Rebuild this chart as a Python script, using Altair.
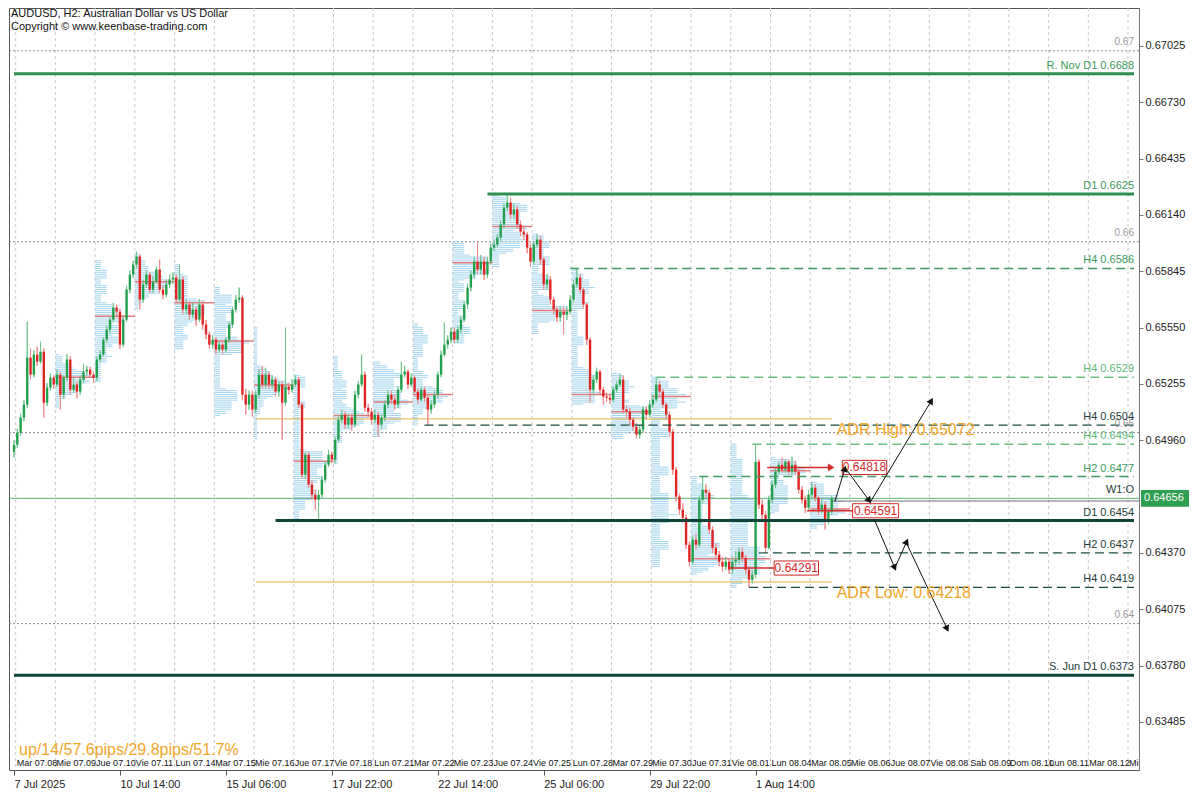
import math
import altair as alt
import pandas as pd

# ---------------- data (AUDUSD H2, bar 0 = 7 Jul 22:00) ----------------
first_open = 0.64900
closes = [
    0.64937,
    0.65000, 0.65079, 0.65147, 0.65393, 0.65304, 0.65409, 0.65372, 0.65424, 0.65157, 0.65236, 0.65288, 0.65252,
    0.65304, 0.65199, 0.65288, 0.65383, 0.65225, 0.65252, 0.65215, 0.65278, 0.65320, 0.65330, 0.65304, 0.65288,
    0.65383, 0.65409, 0.65487, 0.65540, 0.65592, 0.65655, 0.65634, 0.65461, 0.65592, 0.65749, 0.65828, 0.65880,
    0.65922, 0.65697, 0.65776, 0.65828, 0.65749, 0.65791, 0.65854, 0.65749, 0.65723, 0.65776, 0.65802, 0.65812,
    0.65697, 0.65802, 0.65645, 0.65671, 0.65618, 0.65645, 0.65592, 0.65671, 0.65566, 0.65514, 0.65461, 0.65487,
    0.65435, 0.65461, 0.65435, 0.65487, 0.65566, 0.65645, 0.65697, 0.65707, 0.65199, 0.65147, 0.65199, 0.65121,
    0.65199, 0.65304, 0.65252, 0.65304, 0.65252, 0.65278, 0.65215, 0.65252, 0.65157, 0.65241, 0.65225, 0.65252,
    0.65278, 0.65147, 0.64780, 0.64885, 0.64728, 0.64675, 0.64649, 0.64675, 0.64754, 0.64832, 0.64885, 0.64859,
    0.64963, 0.65068, 0.65094, 0.65042, 0.65079, 0.65042, 0.65199, 0.65252, 0.65304, 0.65131, 0.65110, 0.65068,
    0.65094, 0.65042, 0.65079, 0.65147, 0.65199, 0.65173, 0.65147, 0.65225, 0.65304, 0.65320, 0.65252, 0.65288,
    0.65215, 0.65173, 0.65225, 0.65183, 0.65121, 0.65147, 0.65199, 0.65304, 0.65409, 0.65461, 0.65487, 0.65529,
    0.65487, 0.65540, 0.65592, 0.65671, 0.65760, 0.65828, 0.65896, 0.65854, 0.65896, 0.65828, 0.65896, 0.65969,
    0.65985, 0.66022, 0.66090, 0.66179, 0.66205, 0.66142, 0.66169, 0.66090, 0.66053, 0.66038, 0.65969, 0.65896,
    0.65985, 0.66011, 0.65907, 0.65776, 0.65802, 0.65697, 0.65645, 0.65603, 0.65634, 0.65618, 0.65634, 0.65697,
    0.65776, 0.65812, 0.65749, 0.65671, 0.65487, 0.65225, 0.65278, 0.65320, 0.65225, 0.65189, 0.65183, 0.65173,
    0.65225, 0.65252, 0.65278, 0.65121, 0.65110, 0.65068, 0.65031, 0.64990, 0.65016, 0.65121, 0.65094, 0.65147,
    0.65173, 0.65252, 0.65215, 0.65147, 0.65094, 0.65005, 0.64806, 0.64665, 0.64597, 0.64555, 0.64413, 0.64324,
    0.64439, 0.64413, 0.64649, 0.64701, 0.64686, 0.64492, 0.64397, 0.64361, 0.64324, 0.64298, 0.64324, 0.64282,
    0.64324, 0.64335, 0.64376, 0.64345, 0.64282, 0.64230, 0.64256, 0.64848, 0.64623, 0.64570, 0.64397, 0.64649,
    0.64728, 0.64796, 0.64832, 0.64806, 0.64848, 0.64796, 0.64832, 0.64796, 0.64701, 0.64649, 0.64607, 0.64675,
    0.64712, 0.64659, 0.64597, 0.64623, 0.64534, 0.64586, 0.64656,
]
highs = [
    0.64960,
    0.65020, 0.65100, 0.65170, 0.65582, 0.65440, 0.65430, 0.65450, 0.65477, 0.65440, 0.65260, 0.65310, 0.65300,
    0.65330, 0.65320, 0.65300, 0.65410, 0.65400, 0.65290, 0.65270, 0.65300, 0.65360, 0.65350, 0.65345, 0.65320,
    0.65400, 0.65430, 0.65500, 0.65560, 0.65610, 0.65680, 0.65670, 0.65650, 0.65610, 0.65770, 0.65850, 0.65900,
    0.65948, 0.65935, 0.65800, 0.65850, 0.65840, 0.65820, 0.65870, 0.65906, 0.65770, 0.65800, 0.65830, 0.65840,
    0.65830, 0.65880, 0.65820, 0.65700, 0.65690, 0.65680, 0.65660, 0.65700, 0.65690, 0.65590, 0.65530, 0.65510,
    0.65500, 0.65480, 0.65480, 0.65500, 0.65580, 0.65660, 0.65720, 0.65760, 0.65720, 0.65230, 0.65220, 0.65220,
    0.65220, 0.65330, 0.65350, 0.65340, 0.65320, 0.65300, 0.65290, 0.65270, 0.65270, 0.65550, 0.65260, 0.65280,
    0.65300, 0.65290, 0.65160, 0.64900, 0.64900, 0.64750, 0.64700, 0.64700, 0.64770, 0.64850, 0.64910, 0.64900,
    0.64980, 0.65090, 0.65120, 0.65110, 0.65100, 0.65100, 0.65220, 0.65270, 0.65409, 0.65320, 0.65150, 0.65130,
    0.65120, 0.65110, 0.65100, 0.65170, 0.65220, 0.65220, 0.65200, 0.65240, 0.65372, 0.65350, 0.65330, 0.65310,
    0.65300, 0.65230, 0.65240, 0.65240, 0.65200, 0.65170, 0.65220, 0.65320, 0.65430, 0.65576, 0.65510, 0.65550,
    0.65550, 0.65560, 0.65610, 0.65690, 0.65780, 0.65850, 0.65920, 0.66001, 0.65930, 0.65920, 0.65920, 0.65990,
    0.66010, 0.66040, 0.66110, 0.66200, 0.66250, 0.66230, 0.66200, 0.66190, 0.66110, 0.66080, 0.66050, 0.65990,
    0.66000, 0.66040, 0.66030, 0.65920, 0.65830, 0.65820, 0.65710, 0.65660, 0.65660, 0.65660, 0.65660, 0.65720,
    0.65800, 0.65860, 0.65830, 0.65760, 0.65680, 0.65500, 0.65300, 0.65340, 0.65330, 0.65240, 0.65210, 0.65200,
    0.65240, 0.65270, 0.65310, 0.65300, 0.65140, 0.65130, 0.65080, 0.65050, 0.65040, 0.65140, 0.65140, 0.65170,
    0.65200, 0.65290, 0.65270, 0.65230, 0.65160, 0.65110, 0.65020, 0.64820, 0.64680, 0.64630, 0.64570, 0.64430,
    0.64460, 0.64470, 0.64670, 0.64770, 0.64730, 0.64700, 0.64510, 0.64420, 0.64380, 0.64350, 0.64350, 0.64340,
    0.64350, 0.64380, 0.64400, 0.64400, 0.64360, 0.64300, 0.64280, 0.64940, 0.64860, 0.64650, 0.64590, 0.64670,
    0.64750, 0.64820, 0.64850, 0.64869, 0.64860, 0.64860, 0.64874, 0.64850, 0.64810, 0.64720, 0.64670, 0.64700,
    0.64740, 0.64730, 0.64670, 0.64650, 0.64640, 0.64600, 0.64670,
]
lows = [
    0.64869,
    0.64920, 0.64985, 0.65060, 0.65130, 0.65280, 0.65290, 0.65350, 0.65360, 0.65079, 0.65140, 0.65220, 0.65230,
    0.65240, 0.65121, 0.65180, 0.65270, 0.65200, 0.65210, 0.65180, 0.65200, 0.65260, 0.65300, 0.65290, 0.65260,
    0.65270, 0.65370, 0.65400, 0.65470, 0.65520, 0.65580, 0.65610, 0.65440, 0.65450, 0.65580, 0.65730, 0.65810,
    0.65860, 0.65645, 0.65680, 0.65760, 0.65730, 0.65730, 0.65780, 0.65730, 0.65700, 0.65710, 0.65760, 0.65780,
    0.65680, 0.65680, 0.65620, 0.65620, 0.65590, 0.65600, 0.65560, 0.65580, 0.65540, 0.65490, 0.65440, 0.65440,
    0.65410, 0.65420, 0.65410, 0.65420, 0.65470, 0.65550, 0.65630, 0.65680, 0.65170, 0.65094, 0.65120, 0.65084,
    0.65100, 0.65180, 0.65230, 0.65230, 0.65230, 0.65230, 0.65190, 0.65190, 0.64963, 0.65140, 0.65200, 0.65210,
    0.65240, 0.65130, 0.64760, 0.64760, 0.64710, 0.64650, 0.64597, 0.64540, 0.64660, 0.64740, 0.64820, 0.64840,
    0.64840, 0.64950, 0.65050, 0.65020, 0.65020, 0.65010, 0.65030, 0.65180, 0.65240, 0.65110, 0.65080, 0.65040,
    0.65050, 0.64979, 0.65020, 0.65060, 0.65130, 0.65150, 0.65120, 0.65130, 0.65210, 0.65290, 0.65230, 0.65240,
    0.65190, 0.65150, 0.65160, 0.65160, 0.65040, 0.65100, 0.65130, 0.65180, 0.65290, 0.65400, 0.65440, 0.65470,
    0.65470, 0.65470, 0.65520, 0.65580, 0.65650, 0.65740, 0.65810, 0.65830, 0.65830, 0.65800, 0.65810, 0.65880,
    0.65950, 0.65970, 0.66000, 0.66070, 0.66160, 0.66120, 0.66120, 0.66070, 0.66030, 0.66010, 0.65940, 0.65870,
    0.65880, 0.65970, 0.65880, 0.65750, 0.65750, 0.65670, 0.65620, 0.65580, 0.65580, 0.65514, 0.65590, 0.65620,
    0.65680, 0.65760, 0.65730, 0.65650, 0.65460, 0.65157, 0.65200, 0.65260, 0.65200, 0.65147, 0.65160, 0.65150,
    0.65160, 0.65210, 0.65240, 0.65100, 0.65080, 0.65040, 0.65010, 0.64970, 0.64970, 0.65000, 0.65070, 0.65080,
    0.65130, 0.65160, 0.65190, 0.65130, 0.65070, 0.64980, 0.64780, 0.64640, 0.64570, 0.64530, 0.64390, 0.64300,
    0.64310, 0.64390, 0.64400, 0.64630, 0.64660, 0.64470, 0.64370, 0.64340, 0.64300, 0.64270, 0.64280, 0.64260,
    0.64260, 0.64300, 0.64310, 0.64320, 0.64260, 0.64190, 0.64210, 0.64240, 0.64600, 0.64540, 0.64370, 0.64390,
    0.64630, 0.64710, 0.64780, 0.64790, 0.64790, 0.64780, 0.64780, 0.64780, 0.64680, 0.64630, 0.64580, 0.64590,
    0.64660, 0.64640, 0.64570, 0.64580, 0.64492, 0.64520, 0.64570,
]

x_tick_bars = [0, 32, 64, 96, 128, 160, 192, 224]
x_tick_labels = ["7 Jul 2025", "10 Jul 14:00", "15 Jul 06:00", "17 Jul 22:00",
                 "22 Jul 14:00", "25 Jul 06:00", "29 Jul 22:00", "1 Aug 14:00"]
day_labels = ["Mar 07.08", "Mie 07.09", "Jue 07.10", "Vie 07.11", "Lun 07.14", "Mar 07.15",
              "Mie 07.16", "Jue 07.17", "Vie 07.18", "Lun 07.21", "Mar 07.22", "Mie 07.23",
              "Jue 07.24", "Vie 07.25", "Lun 07.28", "Mar 07.29", "Mie 07.30", "Jue 07.31",
              "Vie 08.01", "Lun 08.04", "Mar 08.05", "Mie 08.06", "Jue 08.07", "Vie 08.08",
              "Sab 08.09", "Dom 08.10", "Lun 08.11", "Mar 08.12", "Mie 08.13"]
y_ticks = [0.67025, 0.66730, 0.66435, 0.66140, 0.65845, 0.65550, 0.65255, 0.64960,
           0.64370, 0.64075, 0.63780, 0.63485]
current_price = 0.64656

# levels: price, first bar, label
green_thick = [(0.6688, None, "R. Nov D1 0.6688"), (0.6625, 143, "D1 0.6625")]
dark_thick = [(0.6454, 79, "D1 0.6454"), (0.6373, None, "S. Jun D1 0.6373")]
green_dash = [(0.6586, 168, "H4 0.6586"), (0.6477, 207, "H2 0.6477")]
light_dash = [(0.6529, 194, "H4 0.6529"), (0.6494, 223, "H4 0.6494")]
dark_dash = [(0.6504, 124, "H4 0.6504"), (0.6437, 225, "H2 0.6437"), (0.6419, 222, "H4 0.6419")]
round_levels = [(0.67, "0.67"), (0.66, "0.66"), (0.65, "0.65"), (0.64, "0.64")]
adr_high, adr_low = 0.65072, 0.64218
adr_start, adr_end = 73, 247
weekly_open = 0.64656
red_levels = [(0.64818, 227.5, 246.5, 250.2, 263.6), (0.64591, 239.5, 253.3, 253.3, 267.2),
              (0.64291, 216.0, 229.6, 229.6, 243.0)]
arrow_x1 = [247.9, 251.5, 258.7, 259.9, 266.5, 269.8]
arrow_p1 = [0.64638, 0.64806, 0.64638, 0.64544, 0.64308, 0.64413]
arrow_x2 = [250.9, 258.1, 276.9, 265.9, 269.5, 281.7]
arrow_p2 = [0.64806, 0.64649, 0.65162, 0.64298, 0.64424, 0.63978]

# ---------------- layout ----------------
W, H = 1130, 762
X0, X1 = 0.0, 338.3
Y0, Y1 = 0.632334, 0.67224
FONT = "Liberation Sans"
xs = alt.Scale(domain=[X0, X1], nice=False, zero=False)
ys = alt.Scale(domain=[Y0, Y1], nice=False, zero=False)

XAXIS = alt.Axis(
    values=x_tick_bars,
    labelExpr="".join(f"datum.value == {b} ? '{t}' : " for b, t in zip(x_tick_bars, x_tick_labels)) + "''",
    title=None, grid=False, domain=False, labelAlign="left", labelFlush=False, labelOverlap=False,
    tickSize=5, tickColor="#555", labelPadding=3, labelFont=FONT, labelFontSize=11, labelColor="#222")
YAXIS = alt.Axis(
    orient="right", values=y_ticks, format=".5f", title=None, grid=False,
    domainColor="#777", tickColor="#777", tickSize=4, labelPadding=2,
    labelFont=FONT, labelFontSize=11, labelColor="#222", labelOverlap=False)

GREEN = "#2f8f4f"
GREEN_TXT = "#3a9a5a"
LIGHT_GREEN = "#6cbf84"
DARK = "#0f4538"
DARK_TXT = "#1d3b38"
ORANGE = "#f2a62a"
RED = "#d42a2a"

n = min(len(closes), len(highs), len(lows))
closes, highs, lows = closes[:n], highs[:n], lows[:n]
opens = [first_open] + closes[:-1]
cdf = pd.DataFrame({"i": list(range(n)), "o": opens, "h": highs, "l": lows, "c": closes})
cdf["up"] = cdf["c"] >= cdf["o"]


def X(f):
    return alt.X(f, scale=xs, axis=XAXIS)


def Y(f):
    return alt.Y(f, scale=ys, axis=YAXIS)


layers = []

# candles first layer carries the axes
wick = alt.Chart(cdf).mark_rule(strokeWidth=1, clip=True).encode(
    x=X("i:Q"), y=Y("l:Q"), y2="h:Q",
    color=alt.condition("datum.up", alt.value("#72c58c"), alt.value("#f08a8a")),
)

# vertical day grid
grid = pd.DataFrame({"b": [1 + 12 * k - 0.5 for k in range(len(day_labels))]})
grid_l = (alt.Chart(grid).mark_rule(color="#c8c8c8", strokeDash=[3, 3], strokeWidth=1, clip=True)
          .encode(x=X("b:Q"), y=alt.value(0), y2=alt.value(H)))

# round number dotted lines
rdf = pd.DataFrame({"p": [r[0] for r in round_levels], "t": [r[1] for r in round_levels]})
round_l = (alt.Chart(rdf).mark_rule(color="#8a8a8a", strokeDash=[2, 2], strokeWidth=1)
           .encode(y=Y("p:Q"), x=alt.value(0), x2=alt.value(W)))

# volume profiles per day (time-at-price from the bars) + POC lines
PROF_W = 10.5
prof, poc = [], []
for k in range(1, len(day_labels)):
    s = 1 + 12 * k
    e = min(s + 12, n)
    if s >= n:
        break
    lo_b = int(math.floor(min(lows[s:e]) * 10000))
    hi_b = int(math.ceil(max(highs[s:e]) * 10000))
    counts = []
    for b in range(lo_b, hi_b + 1):
        p = b / 10000.0
        cnt = sum(1 for j in range(s, e) if lows[j] <= p <= highs[j])
        counts.append((p, cnt))
    mx = max(cc for _, cc in counts)
    for p, cc in counts:
        if cc > 0:
            prof.append({"p": p, "x": s - 0.5, "x2": s - 0.5 + PROF_W * cc / mx})
    best = [p for p, cc in counts if cc == mx]
    poc.append({"p": best[len(best) // 2], "x": s - 0.5, "x2": s + 11.5})
pdf = pd.DataFrame(prof)
prof_l = (alt.Chart(pdf).mark_rule(color="#a6d4ee", strokeWidth=1, clip=True)
          .encode(x=X("x:Q"), x2="x2:Q", y=Y("p:Q")))
poc_l = (alt.Chart(pd.DataFrame(poc)).mark_rule(color="#e06060", strokeWidth=1.5, opacity=0.8, clip=True)
         .encode(x=X("x:Q"), x2="x2:Q", y=Y("p:Q")))

layers += [wick, grid_l, round_l, prof_l, poc_l]

# ADR lines
adf = pd.DataFrame({"p": [adr_high, adr_low], "x": [adr_start] * 2, "x2": [adr_end] * 2})
layers.append(alt.Chart(adf).mark_rule(color="#e6b040", strokeWidth=1)
              .encode(x=X("x:Q"), x2="x2:Q", y=Y("p:Q")))

# weekly open + price line
layers.append(alt.Chart(pd.DataFrame({"p": [weekly_open]})).mark_rule(color="#5cb56e", strokeWidth=1)
              .encode(y=Y("p:Q"), x=alt.value(0), x2=alt.value(W)))
layers.append(alt.Chart(pd.DataFrame({"p": [current_price - 0.00014], "x": [n - 1]}))
              .mark_rule(color="#707070", strokeWidth=1)
              .encode(y=Y("p:Q"), x=X("x:Q"), x2=alt.value(W)))

# candles drawn above profiles
layers.append(wick)
body = alt.Chart(cdf).mark_bar(size=2.4, clip=True).encode(
    x=X("i:Q"), y=Y("o:Q"), y2="c:Q",
    color=alt.condition("datum.up", alt.value("#22a04b"), alt.value("#e02525")),
)
layers.append(body)


def level_df(items):
    return pd.DataFrame({"p": [a[0] for a in items],
                         "x": [X0 if a[1] is None else a[1] for a in items],
                         "x2": [X1] * len(items)})


layers.append(alt.Chart(level_df(green_thick)).mark_rule(color=GREEN, strokeWidth=3)
              .encode(x=X("x:Q"), x2="x2:Q", y=Y("p:Q")))
layers.append(alt.Chart(level_df(dark_thick)).mark_rule(color=DARK, strokeWidth=3)
              .encode(x=X("x:Q"), x2="x2:Q", y=Y("p:Q")))
layers.append(alt.Chart(level_df(green_dash)).mark_rule(color="#3f9a62", strokeWidth=1.5, strokeDash=[9, 5])
              .encode(x=X("x:Q"), x2="x2:Q", y=Y("p:Q")))
layers.append(alt.Chart(level_df(light_dash)).mark_rule(color=LIGHT_GREEN, strokeWidth=1.5, strokeDash=[9, 5])
              .encode(x=X("x:Q"), x2="x2:Q", y=Y("p:Q")))
layers.append(alt.Chart(level_df(dark_dash)).mark_rule(color="#1d4d43", strokeWidth=1.2, strokeDash=[9, 5])
              .encode(x=X("x:Q"), x2="x2:Q", y=Y("p:Q")))

# red levels with boxes
red_df = pd.DataFrame({"p": [r[0] for r in red_levels], "x": [r[1] for r in red_levels],
                       "x2": [r[2] for r in red_levels], "bx": [r[3] for r in red_levels],
                       "bx2": [r[4] for r in red_levels],
                       "t": [f"{r[0]:.5f}" for r in red_levels]})
red_df["pt"] = red_df["p"] + 0.00037
red_df["pb"] = red_df["p"] - 0.00037
red_df["bm"] = (red_df["bx"] + red_df["bx2"]) / 2
layers.append(alt.Chart(red_df).mark_rule(color=RED, strokeWidth=1.5)
              .encode(x=X("x:Q"), x2="x2:Q", y=Y("p:Q")))
layers.append(alt.Chart(red_df.iloc[[0]]).mark_point(shape="triangle", filled=True, size=60, color=RED, opacity=1)
              .encode(x=X("x2:Q"), y=Y("p:Q"), angle=alt.value(90)))
layers.append(alt.Chart(red_df).mark_rect(fill="white", stroke=RED, strokeWidth=1)
              .encode(x=X("bx:Q"), x2="bx2:Q", y=Y("pt:Q"), y2="pb:Q"))
layers.append(alt.Chart(red_df).mark_text(color=RED, font=FONT, fontSize=12, baseline="middle")
              .encode(x=X("bm:Q"), y=Y("p:Q"), text="t:N"))

# arrows
px_x = W / (X1 - X0)
px_y = H / (Y1 - Y0)
ar = pd.DataFrame({"x": arrow_x1, "y": arrow_p1, "x2": arrow_x2, "y2": arrow_p2})
ar["ang"] = [(math.degrees(math.atan2((b - a) * px_x, (d - c) * px_y)) + 360) % 360
             for a, b, c, d in zip(arrow_x1, arrow_x2, arrow_p1, arrow_p2)]
layers.append(alt.Chart(ar).mark_rule(color="#111", strokeWidth=1)
              .encode(x=X("x:Q"), x2="x2:Q", y=Y("y:Q"), y2="y2:Q"))
layers.append(alt.Chart(ar).mark_point(shape="triangle", filled=True, size=55, color="#111", opacity=1)
              .encode(x=X("x2:Q"), y=Y("y2:Q"), angle=alt.Angle("ang:Q", scale=None)))

# round-number labels (under the level labels, as in the reference)
layers.append(alt.Chart(rdf).mark_text(font=FONT, fontSize=10, align="right", baseline="bottom",
                                       dy=-4, color="#9a9a9a")
              .encode(x=alt.value(W - 5), y=Y("p:Q"), text="t:N"))

# level labels
lab_rows = []
for items, col in [(green_thick, GREEN_TXT), (green_dash, GREEN_TXT), (light_dash, "#5db878"),
                   (dark_thick, DARK_TXT), (dark_dash, DARK_TXT)]:
    for a in items:
        lab_rows.append({"p": a[0], "t": a[2], "col": col})
lab_rows.append({"p": weekly_open, "t": "W1:O", "col": DARK_TXT})
ldf = pd.DataFrame(lab_rows)
layers.append(alt.Chart(ldf).mark_text(font=FONT, fontSize=11, align="right", baseline="bottom", dy=-3)
              .encode(x=alt.value(W - 5), y=Y("p:Q"), text="t:N", color=alt.Color("col:N", scale=None)))

# ADR labels
adr_lab = pd.DataFrame({"p": [adr_high, adr_low], "x": [248.5, 248.5],
                        "t": [f"ADR High: {adr_high:.5f}", f"ADR Low: {adr_low:.5f}"]})
layers.append(alt.Chart(adr_lab).mark_text(font=FONT, fontSize=16, color=ORANGE, align="left",
                                           baseline="middle", dy=11)
              .encode(x=X("x:Q"), y=Y("p:Q"), text="t:N"))

# day label row
dl = pd.DataFrame({"b": [1 + 12 * k - 0.5 for k in range(len(day_labels))], "t": day_labels})
layers.append(alt.Chart(dl).mark_text(font=FONT, fontSize=9, color="#111", align="left",
                                      baseline="bottom", dx=1, clip=True)
              .encode(x=X("b:Q"), y=alt.value(H - 2), text="t:N"))

# header texts and stats
layers.append(alt.Chart(pd.DataFrame({"t": ["AUDUSD, H2:  Australian Dollar vs US Dollar"]}))
              .mark_text(font=FONT, fontSize=11, color="#111", align="left", baseline="top")
              .encode(x=alt.value(2), y=alt.value(0), text="t:N"))
layers.append(alt.Chart(pd.DataFrame({"t": ["Copyright \u00a9 www.keenbase-trading.com"]}))
              .mark_text(font=FONT, fontSize=11, color="#111", align="left", baseline="top")
              .encode(x=alt.value(2), y=alt.value(13), text="t:N"))
layers.append(alt.Chart(pd.DataFrame({"t": ["up/14/57.6pips/29.8pips/51.7%"]}))
              .mark_text(font=FONT, fontSize=16, color=ORANGE, align="left", baseline="middle")
              .encode(x=alt.value(10), y=alt.value(H - 20), text="t:N"))

# current price tag on axis
cp = pd.DataFrame({"p": [current_price], "pt": [current_price + 0.00044], "pb": [current_price - 0.00044],
                   "t": [f"{current_price:.5f}"]})
layers.append(alt.Chart(cp).mark_rect(color="#2e9e50")
              .encode(x=alt.value(W + 2), x2=alt.value(W + 50), y=Y("pt:Q"), y2="pb:Q"))
layers.append(alt.Chart(cp).mark_text(font=FONT, fontSize=11, color="white", align="left", baseline="middle")
              .encode(x=alt.value(W + 5), y=Y("p:Q"), text="t:N"))

chart = alt.layer(*layers).properties(
    width=W, height=H, padding={"left": 0, "top": 0, "right": 2, "bottom": 0}, background="white"
).configure_view(stroke="#555", strokeWidth=1)

chart.save("out.html", embed_options={"renderer": "svg", "actions": False})
